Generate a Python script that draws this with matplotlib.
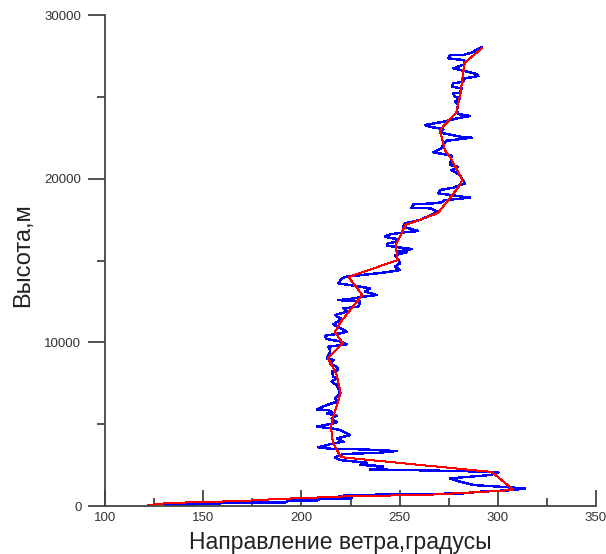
import matplotlib
matplotlib.use("Agg")
import matplotlib.pyplot as plt
from matplotlib.ticker import MultipleLocator

plt.rcParams["font.family"] = ["Liberation Sans", "DejaVu Sans"]

# raw sounding: wind direction (deg) vs altitude (m)
raw_dir = [130, 158, 159, 192, 193, 208, 209, 215, 225.6, 218.8, 223.1, 262.1, 282.5, 291, 307.9,
           313.9, 306.2, 287.6, 280.8, 275.7, 296.1, 300.3, 294.4, 270.6, 234.9, 240.0, 241.7, 229.9,
           233.2, 219.7, 217.1, 221.4, 240.0, 248.5, 231.5, 216.3, 208.6, 216.3, 221.4, 218.0, 224.8,
           219.7, 215.4, 207.8, 214.6, 218.0, 215.4, 218.0, 212.9, 215.4, 213.7, 207.8, 212.9, 218.0,
           217.1, 218.8, 219.7, 218.0, 215.4, 218.0, 216.3, 215.4, 218.8, 218.0, 214.6, 216.3, 212.9,
           214.6, 214.6, 213.7, 223.1, 220.5, 212.9, 212.0, 219.7, 223.1, 216.3, 220.5, 217.1, 223.1,
           221.4, 229.0, 229.9, 218.8, 224.8, 231.6, 238.4, 232.4, 235.0, 229.9, 218.8, 220.5, 223.1,
           238.4, 245.1, 250.2, 247.7, 250.2, 249.4, 247.7, 253.6, 248.5, 256.1, 243.4, 244.2, 248.5,
           248.5, 242.5, 245.1, 251.9, 259.5, 251.9, 252.7, 260.4, 269.7, 265.5, 256.1, 257.0, 267.2,
           271.4, 273.1, 279.0, 285.8, 269.7, 270.6, 277.4, 280.7, 283.3, 281.6, 280.7, 276.5, 279.9,
           275.7, 276.5, 273.1, 267.2, 271.4, 272.3, 274.0, 286.7, 280.8, 270.6, 272.3, 265.5, 262.9,
           272.3, 279.1, 285.9, 279.9, 279.1, 279.9, 278.2, 280.8, 278.2, 277.4, 280.8, 281.6, 276.5,
           277.4, 282.5, 283.3, 290.1, 289.3, 282.5, 277.4, 283.3, 282.5, 274.8, 275.7, 282.5, 286.7,
           288.4, 291.8]
raw_alt = [80, 120, 220, 225, 325, 330, 425, 430, 470, 570, 670, 730, 775, 875, 976,
           1079, 1140, 1282, 1486, 1690, 1893, 2036, 2097, 2158, 2240, 2301, 2443, 2504,
           2647, 2810, 2973, 3177, 3258, 3360, 3462, 3482, 3584, 3828, 3930, 4133, 4337,
           4643, 4745, 4846, 5009, 5111, 5356, 5518, 5661, 5763, 5865, 5906, 6170, 6374,
           6578, 6781, 6985, 7393, 7596, 7800, 7902, 8207, 8309, 8513, 8717, 8920, 9022,
           9389, 9530, 9734, 9877, 10040, 10203, 10406, 10549, 10651, 11099, 11425, 11669, 11873,
           12077, 12179, 12484, 12586, 12647, 12790, 12892, 13095, 13299, 13401, 13605, 13910, 14012,
           14216, 14317, 14419, 14623, 14827, 15030, 15336, 15499, 15540, 15701, 15905, 16048, 16150,
           16313, 16455, 16598, 16720, 16802, 17066, 17270, 17474, 17983, 18187, 18227, 18431, 18492,
           18553, 18696, 18757, 18840, 19103, 19307, 19450, 19613, 19715, 20020, 20224, 20530, 20713,
           20835, 21405, 21487, 21610, 21850, 22120, 22320, 22505, 22565, 22810, 23015, 23175, 23280,
           23480, 23685, 23830, 23950, 24195, 24500, 24700, 24910, 25010, 25210, 25255, 25520, 25620,
           25825, 25930, 26130, 26270, 26395, 26600, 26740, 27000, 27250, 27350, 27556, 27556, 27700,
           27820, 28025]

# smoothed profile
smooth_dir = [122, 132, 150, 169, 188, 215, 225, 262, 281, 308, 297, 235, 220, 216, 215, 216, 220,
              218, 213.5, 221, 217, 220, 231, 224, 249, 248, 253, 269.5, 280, 282, 276, 273, 270.5,
              279, 281, 283, 292]
smooth_alt = [60, 180, 250, 300, 430, 550, 610, 670, 790, 980, 2080, 2810, 2990, 3900, 4830, 5380,
              6900, 8000, 9040, 9960, 10630, 11240, 12890, 13990, 15030, 15950, 17170, 17900, 19490,
              19920, 21260, 21750, 22970, 24070, 25230, 27070, 27980]

fig = plt.figure(figsize=(6.06, 5.54), dpi=100)
ax = fig.add_axes([0.1733, 0.0866, 0.8102, 0.8863])

ax.plot(raw_dir, raw_alt, color="#0000ff", lw=1.0, antialiased=False)
ax.plot(smooth_dir, smooth_alt, color="#ff0000", lw=0.72, antialiased=False)

ax.set_xlim(100, 350)
ax.set_ylim(0, 30000)

ax.xaxis.set_major_locator(MultipleLocator(50))
ax.xaxis.set_minor_locator(MultipleLocator(25))
ax.yaxis.set_major_locator(MultipleLocator(10000))
ax.yaxis.set_minor_locator(MultipleLocator(5000))

spine_color = "#444444"
for side in ("top", "right"):
    ax.spines[side].set_visible(False)
for side in ("left", "bottom"):
    ax.spines[side].set_color(spine_color)
    ax.spines[side].set_linewidth(1.3)

ax.tick_params(axis="x", which="both", direction="in", color=spine_color, width=1.3,
               labelsize=9.5, labelcolor="#333333", pad=4)
ax.tick_params(axis="x", which="major", length=11.5)
ax.tick_params(axis="x", which="minor", length=5.5)
ax.tick_params(axis="y", which="both", direction="out", color=spine_color, width=1.3,
               labelsize=9.5, labelcolor="#333333", pad=5)
ax.tick_params(axis="y", which="major", length=12)
ax.tick_params(axis="y", which="minor", length=5.5)

ax.set_xlabel("Направление ветра,градусы", fontsize=16.5, color="#222222", va="baseline")
ax.xaxis.set_label_coords(0.479, -0.0876)
ax.set_ylabel("Высота,м", fontsize=17, color="#222222")
ax.yaxis.set_label_coords(-0.145, 0.511)

fig.savefig("out.png", dpi=100)
plt.close(fig)
